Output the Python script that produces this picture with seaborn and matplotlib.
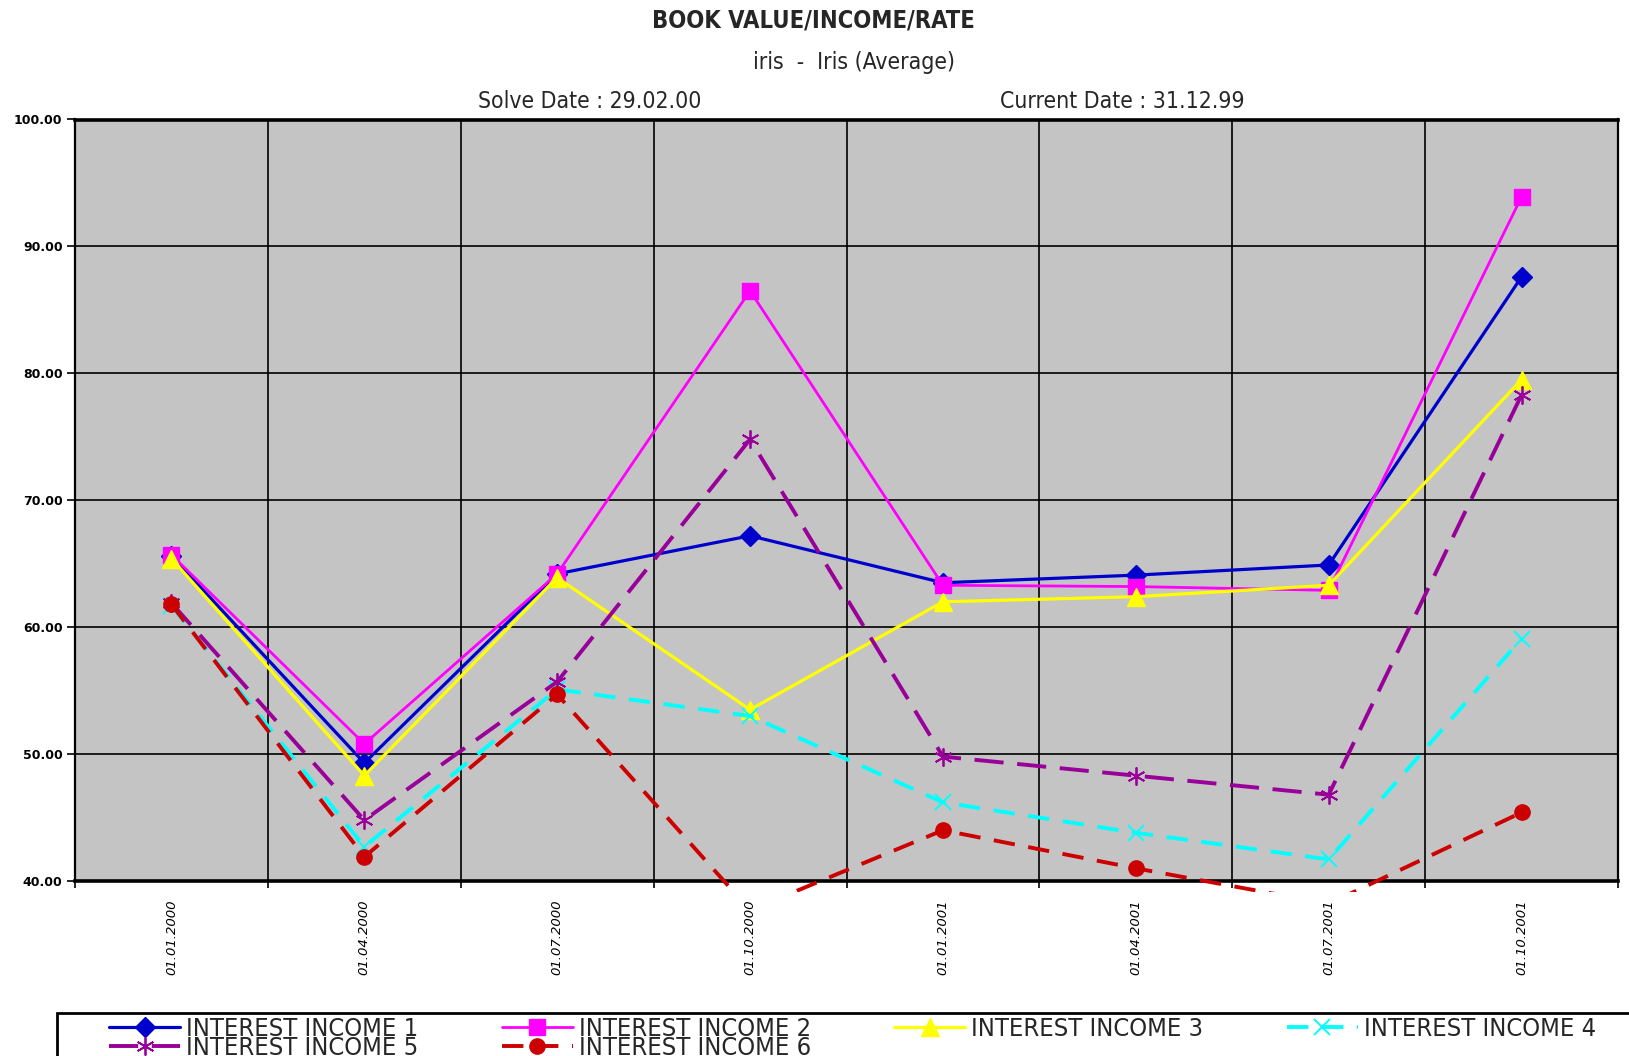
import numpy as np
import pandas as pd
import seaborn as sns
import matplotlib
matplotlib.use("Agg")
import matplotlib.pyplot as plt
from matplotlib import font_manager as fm
from matplotlib.patches import Rectangle
from matplotlib.transforms import Bbox, TransformedBbox

# ---- data -------------------------------------------------------------
dates = ["01.01.2000", "01.04.2000", "01.07.2000", "01.10.2000",
         "01.01.2001", "01.04.2001", "01.07.2001", "01.10.2001"]
income1 = [65.6, 49.3, 64.2, 67.2, 63.5, 64.1, 64.9, 87.6]
income2 = [65.7, 50.8, 64.2, 86.5, 63.3, 63.2, 62.9, 93.9]
income3 = [65.4, 48.3, 63.9, 53.5, 62.0, 62.4, 63.3, 79.5]
income4 = [61.7, 42.7, 55.1, 53.0, 46.2, 43.8, 41.7, 59.1]
income5 = [61.9, 44.8, 55.7, 74.8, 49.8, 48.3, 46.8, 78.3]
income6 = [61.8, 41.9, 54.7, 37.7, 44.0, 41.0, 38.2, 45.4]
series_names = ["INTEREST INCOME 1", "INTEREST INCOME 2", "INTEREST INCOME 3",
                "INTEREST INCOME 4", "INTEREST INCOME 5", "INTEREST INCOME 6"]
y_ticks = [40, 50, 60, 70, 80, 90, 100]

# ---- fonts ------------------------------------------------------------
sns.set_theme(style="white")
available = {f.name for f in fm.fontManager.ttflist}
if "Liberation Sans Narrow" in available:
    NARROW = dict(family=["Liberation Sans Narrow", "DejaVu Sans"])
else:
    NARROW = dict(family=["DejaVu Sans"], stretch="condensed")
plt.rcParams["font.family"] = ["DejaVu Sans"]

# ---- styles per series -------------------------------------------------
styles = [
    dict(color="#0000CC", marker="D", ms=10, ls="-", lw=2.3),
    dict(color="#FF00FF", marker="s", ms=11, ls="-", lw=2.0),
    dict(color="#FFFF00", marker="^", ms=13, ls="-", lw=2.3),
    dict(color="#00FFFF", marker="x", ms=11, ls=(0, (5.5, 3.5)), lw=2.8, mew=1.4),
    dict(color="#990099", marker=(6, 2, 0), ms=13, ls=(0, (7.5, 3.5)), lw=2.8, mew=1.3),
    dict(color="#CC0000", marker="o", ms=11, ls=(0, (5.5, 3.5)), lw=2.8),
]

frames = []
for name, vals in zip(series_names, [income1, income2, income3, income4, income5, income6]):
    frames.append(pd.DataFrame({"pos": np.arange(len(dates)), "value": vals, "series": name}))
df = pd.concat(frames, ignore_index=True)

# ---- figure -------------------------------------------------------------
fig = plt.figure(figsize=(16.29, 10.56), dpi=100)
ax = fig.add_axes([75 / 1629, 1 - 881 / 1056, (1618 - 75) / 1629, (881 - 119.5) / 1056])
ax.set_facecolor("#C4C4C4")

handles = []
for name, st in zip(series_names, styles):
    sub = df[df["series"] == name]
    n_before = len(ax.lines)
    sns.lineplot(data=sub, x="pos", y="value", ax=ax, color=st["color"],
                 linewidth=st["lw"], linestyle=st["ls"], marker=st["marker"],
                 markersize=st["ms"], markeredgecolor=st["color"],
                 markeredgewidth=st.get("mew", 1.0), label=name, legend=False,
                 zorder=3)
    line = ax.lines[n_before]
    # plot area extends a little below the value axis
    line.set_clip_box(TransformedBbox(Bbox([[0, -0.014], [1, 1]]), ax.transAxes))
    handles.append(line)

ax.set_xlim(-0.5, len(dates) - 0.5)
ax.set_ylim(40, 100)
ax.set_yticks(y_ticks)
ax.set_yticklabels([f"{v:.2f}" for v in y_ticks], fontsize=9, fontweight="bold", color="black")
ax.set_xticks(np.arange(len(dates)))
ax.set_xticklabels(dates, rotation=90, fontsize=9.5, style="italic", va="top")
ax.set_xticks(np.arange(len(dates) + 1) - 0.5, minor=True)
ax.tick_params(axis="x", which="major", length=0, pad=13, colors="black")
ax.tick_params(axis="x", which="minor", length=5, width=1.2, color="black", bottom=True)
ax.tick_params(axis="y", which="major", length=6, width=1.2, color="black", pad=3, left=True)
ax.set_xlabel("")
ax.set_ylabel("")

ax.grid(False)
ax.grid(True, axis="x", which="minor", color="black", linewidth=1.2)
ax.grid(True, axis="y", which="major", color="black", linewidth=1.2)
ax.set_axisbelow(True)
for side in ["left", "right"]:
    ax.spines[side].set_visible(True)
    ax.spines[side].set_color("black")
    ax.spines[side].set_linewidth(1.6)
for side in ["top", "bottom"]:
    ax.spines[side].set_visible(True)
    ax.spines[side].set_color("black")
    ax.spines[side].set_linewidth(2.6)

# ---- titles -----------------------------------------------------------
fig.text(813 / 1629, 1 - 21 / 1056, "BOOK VALUE/INCOME/RATE", ha="center", va="center",
         fontsize=17, fontweight="bold", **NARROW)
fig.text(854 / 1629, 1 - 62 / 1056, "iris  -  Iris (Average)", ha="center", va="center",
         fontsize=16.5, **NARROW)
fig.text(590 / 1629, 1 - 101 / 1056, "Solve Date : 29.02.00", ha="center", va="center",
         fontsize=16.5, **NARROW)
fig.text(1122 / 1629, 1 - 101 / 1056, "Current Date : 31.12.99", ha="center", va="center",
         fontsize=16.5, **NARROW)

# ---- legend (row-major order over 4 columns) ---------------------------
order = [0, 4, 1, 5, 2, 3]
leg = fig.legend([handles[i] for i in order], [series_names[i] for i in order],
                 ncol=4, loc="upper left", bbox_to_anchor=(109 / 1629, 1 - 1017 / 1056),
                 frameon=False, borderpad=0, borderaxespad=0, handlelength=2.8,
                 handletextpad=0.24, columnspacing=3.27, labelspacing=-0.2,
                 prop=fm.FontProperties(size=18.3, **NARROW))
fig.add_artist(Rectangle((57 / 1629, -0.05), 1.0, 0.05 + 1 - 1013 / 1056,
                         transform=fig.transFigure, fill=False, edgecolor="black",
                         linewidth=2, clip_on=False))

fig.savefig("out.png", dpi=100)
